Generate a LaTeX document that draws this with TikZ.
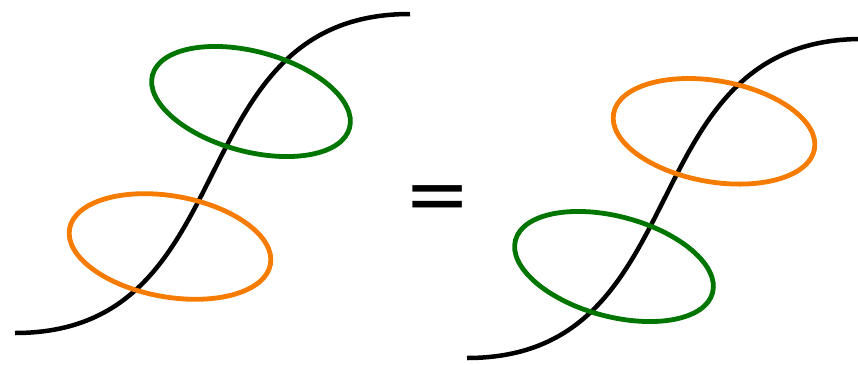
\documentclass[tikz,border=0pt]{standalone}
\usepackage{fontspec}
\newfontfamily\eqfont{DejaVu Sans}
\usepackage{xcolor}
\usepackage{tikz}
\usetikzlibrary{shapes.geometric, positioning, calc}
\definecolor{ringgreen}{RGB}{0,118,0}
\definecolor{ringorange}{RGB}{245,124,0}
\tikzset{
  strand/.style = {line width=4.5pt, black},
  ringG/.style  = {ellipse, draw=ringgreen,  line width=4.8pt, inner sep=0pt,
                   minimum width=204pt, minimum height=100pt, rotate=-15},
  ringO/.style  = {ellipse, draw=ringorange, line width=4.8pt, inner sep=0pt,
                   minimum width=204pt, minimum height=101pt, rotate=-10},
}

\begin{document}
\begin{tikzpicture}[x=1pt, y=-1pt]
    \useasboundingbox (0,0) rectangle (858,364);

    %% Left strand and rings
    \coordinate (ls) at (15,333);
    \coordinate (le) at (410,14);
    \draw[strand] (ls) .. controls (250,333) and (175,14) .. (le);
    \node[ringG] (gl) at (251,101.5) {};
    \node[ringO] (ol) at (170,246.5) {};

    %% Equals
    \node[font=\eqfont\fontsize{79}{79}\selectfont, inner sep=0pt] (eq) at (437.5,203.5) {=};

    %% Right strand and rings (swapped)
    \coordinate (rs) at (467,358);
    \coordinate (re) at (862,39);
    \draw[strand] (rs) .. controls (702,358) and (627,39) .. (re);
    \node[ringO] (or) at (714,131.3) {};
    \node[ringG] (gr) at (614,266.5) {};

\end{tikzpicture}
\end{document}
